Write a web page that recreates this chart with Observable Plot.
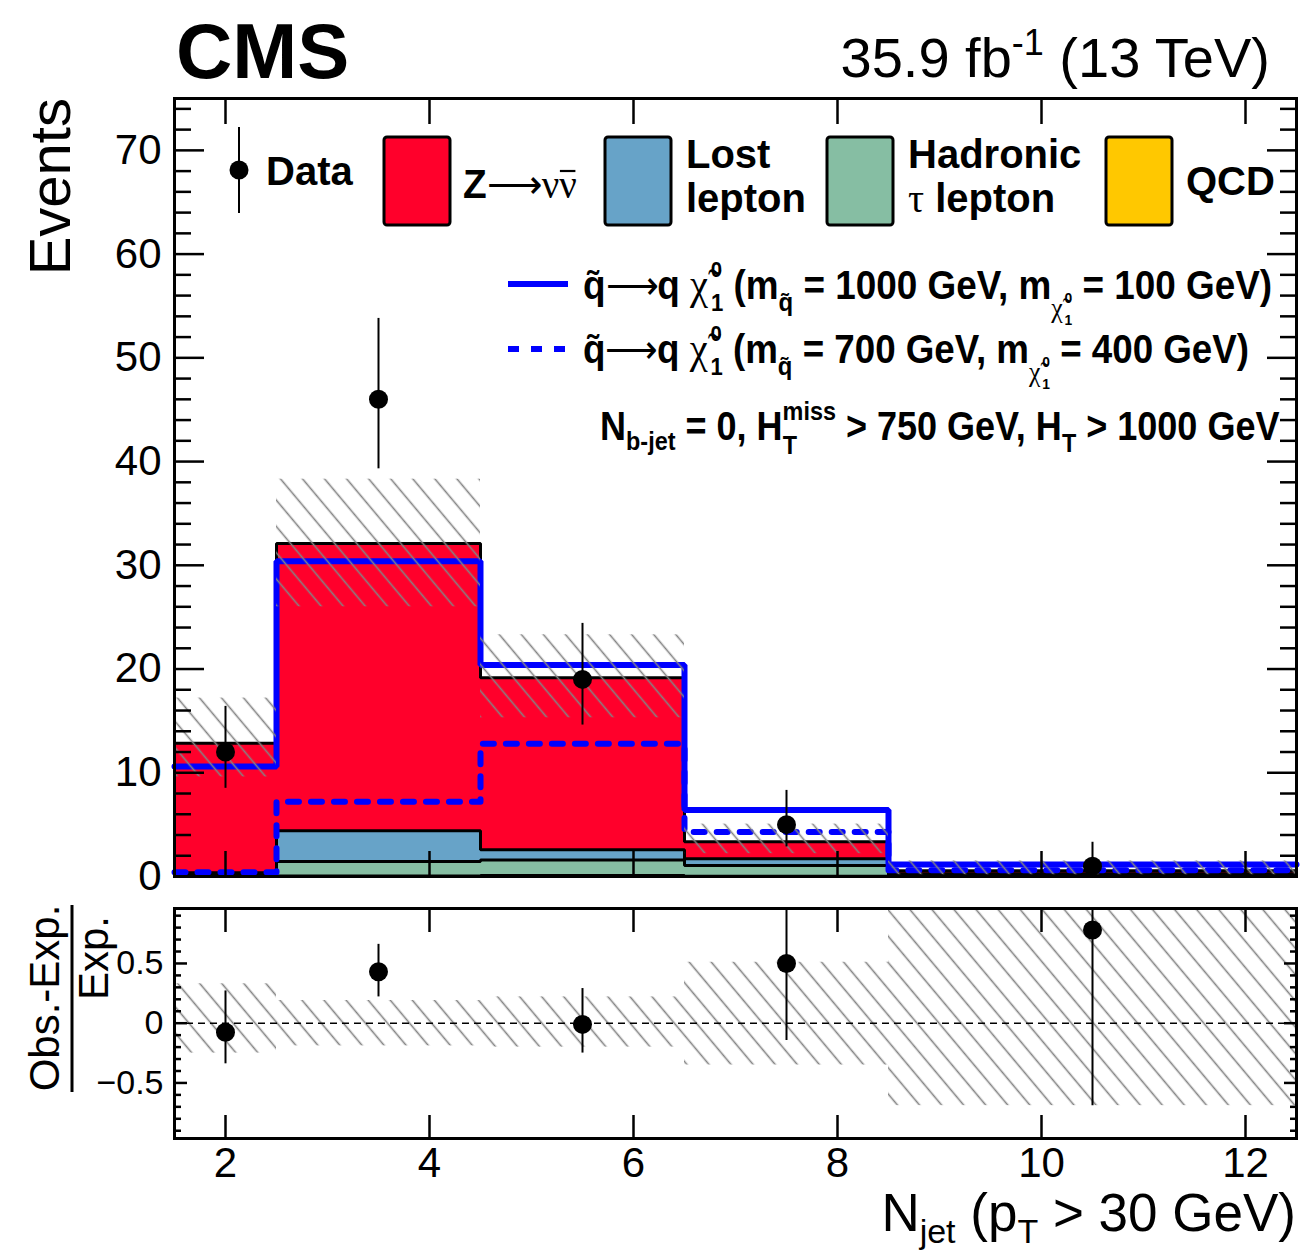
<!DOCTYPE html>
<html>
<head>
<meta charset="utf-8">
<script src="https://cdn.jsdelivr.net/npm/d3@7"></script>
<script src="https://cdn.jsdelivr.net/npm/@observablehq/plot@0.6"></script>
<style>
  body { margin: 0; background: #fff; }
  #wrap { position: relative; width: 1301px; height: 1257px; overflow: hidden; background: #fff; font-family: "Liberation Sans", Arial, sans-serif; }
  #main { position: absolute; left: 0; top: 0; }
  #ratio { position: absolute; left: 0; top: 890px; }
  #overlay { position: absolute; left: 0; top: 0; pointer-events: none; }
</style>
</head>
<body>
<div id="wrap">
  <svg width="0" height="0" style="position:absolute">
    <defs>
      <pattern id="hatch" patternUnits="userSpaceOnUse" width="16.9" height="16.9" patternTransform="rotate(-40)">
        <line x1="8.45" y1="-1" x2="8.45" y2="18" stroke="#838383" stroke-width="1.6"/>
      </pattern>
    </defs>
  </svg>
  <div id="main"></div>
  <div id="ratio"></div>
  <svg id="overlay" width="1301" height="1257"></svg>
</div>
<script>
// ---------------- data ----------------
const binLo = [1.5, 2.5, 4.5, 6.5, 8.5];
const binHi = [2.5, 4.5, 6.5, 8.5, 12.5];
const binCenter = [2, 3.5, 5.5, 7.5, 10.5];

const seriesNames = ["QCD", "Hadronic τ lepton", "Lost lepton", "Z→νν̄"];
const seriesColors = ["#ffc800", "#86bea3", "#67a3c8", "#ff002b"];
const qcd        = [0.05, 0.05, 0.10, 0.02, 0.03];
const hadTau     = [0.10, 1.40, 1.50, 1.05, 0.10];
const lostLepton = [0.20, 2.95, 0.97, 0.65, 0.13];
const zInv       = [12.5, 27.7, 16.6, 1.63, 0.30];

const bkgUncLo = [9.6, 26.0, 15.3, 2.2, 0.17];
const bkgUncHi = [17.2, 38.3, 23.3, 5.05, 1.5];

const sigSolid  = [10.6, 30.4, 20.4, 6.4, 1.15]; // m_sq=1000, m_chi=100
const sigDashed = [0.4, 7.2, 12.8, 4.3, 0.6];    // m_sq=700, m_chi=400

const dataObs   = [12, 46, 19, 5, 1];
const dataErrLo = [8.5, 39.3, 14.6, 2.85, 0.17];
const dataErrHi = [16.4, 53.8, 24.4, 8.3, 3.3];

const ratioObs   = [-0.075, 0.43, -0.01, 0.50, 0.78];
const ratioErrLo = [-0.34, 0.22, -0.25, -0.145, -0.69];
const ratioErrHi = [0.27, 0.66, 0.29, 1.48, 4.9];
const ratioUncLo = [-0.25, -0.19, -0.20, -0.35, -0.69];
const ratioUncHi = [0.33, 0.19, 0.22, 0.51, 1.68];

const xTicks = [2, 4, 6, 8, 10, 12];
const yTicks = [0, 10, 20, 30, 40, 50, 60, 70];
const ratioTicks = [-0.5, 0, 0.5];

// ---------------- derived ----------------
const yMinor = d3.range(0, 75, 2).filter(v => v % 10 !== 0);
const rMinor = d3.range(-9, 10).map(v => v / 10).filter(v => Math.abs(v * 10) % 5 !== 0);

const comps = [qcd, hadTau, lostLepton, zInv];
const stackRects = [];
binLo.forEach((lo, i) => {
  let base = 0;
  comps.forEach((c, k) => {
    stackRects.push({lo, hi: binHi[i], y1: base, y2: base + c[i], fill: seriesColors[k]});
    base += c[i];
  });
});
function stepPoints(values, key) {
  const pts = values.map((v, i) => ({x: binLo[i], y: v, key}));
  pts.push({x: binHi[binHi.length - 1], y: values[values.length - 1], key});
  return pts;
}
const stackLines = comps.flatMap((c, k) => {
  const tops = binLo.map((_, i) => comps.slice(0, k + 1).reduce((s, a) => s + a[i], 0));
  return stepPoints(tops, k);
});
const bins = binLo.map((lo, i) => ({
  lo, hi: binHi[i], x: binCenter[i],
  uLo: bkgUncLo[i], uHi: bkgUncHi[i],
  obs: dataObs[i], eLo: dataErrLo[i], eHi: dataErrHi[i],
  r: ratioObs[i], rLo: ratioErrLo[i], rHi: ratioErrHi[i],
  ruLo: ratioUncLo[i], ruHi: ratioUncHi[i]
}));

const font = "Liberation Sans, Arial, Helvetica, sans-serif";
const empty = () => "";

// ---------------- main panel ----------------
const main = Plot.plot({
  width: 1301, height: 890,
  marginLeft: 174, marginRight: 5, marginTop: 98, marginBottom: 14,
  x: {domain: [1.5, 12.5]},
  y: {domain: [0, 75]},
  color: {type: "identity"},
  style: {fontFamily: font, fontSize: "42px", color: "black", background: "transparent", overflow: "visible"},
  marks: [
    Plot.rect(stackRects, {x1: "lo", x2: "hi", y1: "y1", y2: "y2", fill: "fill"}),
    Plot.line(stackLines, {x: "x", y: "y", z: "key", curve: "step-after", stroke: "black", strokeWidth: 3, strokeLinejoin: "miter"}),
    Plot.line(stepPoints(sigSolid, 0), {x: "x", y: "y", curve: "step-after", stroke: "#0000ff", strokeWidth: 6, strokeLinejoin: "miter"}),
    Plot.line(stepPoints(sigDashed, 0), {x: "x", y: "y", curve: "step-after", stroke: "#0000ff", strokeWidth: 6, strokeDasharray: "11,12"}),
    Plot.rect(bins, {x1: "lo", x2: "hi", y1: "uLo", y2: "uHi", fill: "url(#hatch)"}),
    Plot.ruleX(bins, {x: "x", y1: "eLo", y2: "eHi", stroke: "black", strokeWidth: 2}),
    Plot.dot(bins, {x: "x", y: "obs", r: 9.5, fill: "black"}),
    Plot.axisY(yTicks, {anchor: "left", tickSize: -30, tickPadding: 43, strokeWidth: 2.5, label: null, fontSize: 42}),
    Plot.axisY(yMinor, {anchor: "left", tickSize: -17, tickFormat: empty, strokeWidth: 2.5, label: null}),
    Plot.axisY(yTicks, {anchor: "right", tickSize: -30, tickFormat: empty, strokeWidth: 2.5, label: null}),
    Plot.axisY(yMinor, {anchor: "right", tickSize: -17, tickFormat: empty, strokeWidth: 2.5, label: null}),
    Plot.axisX(xTicks, {anchor: "bottom", tickSize: -25, tickFormat: empty, strokeWidth: 2.5, label: null}),
    Plot.axisX(xTicks, {anchor: "top", tickSize: -25, tickFormat: empty, strokeWidth: 2.5, label: null}),
    Plot.frame({stroke: "black", strokeWidth: 3})
  ]
});
document.getElementById("main").append(main);

// ---------------- ratio panel ----------------
const fmtR = d => d < 0 ? "\u2212" + Math.abs(d) : String(d);
const ratio = Plot.plot({
  width: 1301, height: 367,
  marginLeft: 174, marginRight: 5, marginTop: 18, marginBottom: 119,
  x: {domain: [1.5, 12.5]},
  y: {domain: [-0.965, 0.96]},
  style: {fontFamily: font, fontSize: "42px", color: "black", background: "transparent", overflow: "visible"},
  marks: [
    Plot.rect(bins, {x1: "lo", x2: "hi", y1: "ruLo", y2: "ruHi", fill: "url(#hatch)", clip: true}),
    Plot.ruleY([0], {stroke: "black", strokeWidth: 1.6, strokeDasharray: "7,5"}),
    Plot.ruleX(bins, {x: "x", y1: "rLo", y2: "rHi", stroke: "black", strokeWidth: 2, clip: true}),
    Plot.dot(bins, {x: "x", y: "r", r: 9.5, fill: "black", clip: true}),
    Plot.axisY(ratioTicks, {anchor: "left", tickSize: -13, tickPadding: 24, tickFormat: fmtR, strokeWidth: 2.5, label: null, fontSize: 34}),
    Plot.axisY(rMinor, {anchor: "left", tickSize: -7, tickFormat: empty, strokeWidth: 2.5, label: null}),
    Plot.axisY(ratioTicks, {anchor: "right", tickSize: -13, tickFormat: empty, strokeWidth: 2.5, label: null}),
    Plot.axisY(rMinor, {anchor: "right", tickSize: -7, tickFormat: empty, strokeWidth: 2.5, label: null}),
    Plot.axisX(xTicks, {anchor: "bottom", tickSize: -23, tickPadding: 32, strokeWidth: 2.5, label: null, fontSize: 42}),
    Plot.axisX(xTicks, {anchor: "top", tickSize: -23, tickFormat: empty, strokeWidth: 2.5, label: null}),
    Plot.frame({stroke: "black", strokeWidth: 3})
  ]
});
document.getElementById("ratio").append(ratio);

// ---------------- annotations & legend ----------------
const sw = (x, k) => `<rect x="${x}" y="137" width="66" height="88" rx="3" fill="${seriesColors[k]}" stroke="black" stroke-width="3"/>`;
const serif = `font-family="Liberation Serif, serif" font-weight="normal"`;
function sigLabel(mq, mchi) {
  return `<text font-size="40" font-weight="bold">q̃<tspan ${serif}>⟶</tspan>q <tspan ${serif} font-size="44">χ̃</tspan>` +
    `<tspan font-size="22" dx="3" dy="-22">0</tspan><tspan font-size="24" dx="-12.2" dy="34">1</tspan>` +
    `<tspan dy="-12"> (m</tspan><tspan font-size="26" dy="12">q̃</tspan><tspan dy="-12"> = ${mq} GeV, m</tspan>` +
    `<tspan font-size="28" dy="18" ${serif}>χ̃</tspan><tspan font-size="15" dx="2" dy="-14">0</tspan><tspan font-size="15" dx="-8.3" dy="22">1</tspan>` +
    `<tspan dy="-26"> = ${mchi} GeV)</tspan></text>`;
}
const overlay = document.getElementById("overlay");
overlay.innerHTML = `
<g font-family="${font}" fill="black">
  <text x="176" y="78" font-size="78" font-weight="bold">CMS</text>
  <text x="1270" y="77" font-size="56" text-anchor="end">35.9 fb<tspan font-size="36" dy="-22">-1</tspan><tspan dy="22"> (13 TeV)</tspan></text>
  <text transform="translate(70,98) rotate(-90)" font-size="58" text-anchor="end">Events</text>
  <text transform="translate(59,998) rotate(-90)" font-size="42" text-anchor="middle">Obs.-Exp.</text>
  <line x1="72" y1="905" x2="72" y2="1092" stroke="black" stroke-width="3"/>
  <text transform="translate(108,958) rotate(-90)" font-size="42" text-anchor="middle">Exp.</text>
  <text x="1296" y="1231" font-size="53" text-anchor="end">N<tspan font-size="34" dy="12">jet</tspan><tspan dy="-12"> (p</tspan><tspan font-size="34" dy="12">T</tspan><tspan dy="-12"> &gt; 30 GeV)</tspan></text>

  <line x1="239" y1="127" x2="239" y2="213" stroke="black" stroke-width="2"/>
  <circle cx="239" cy="170" r="9.5"/>
  <text x="266" y="185" font-size="40" font-weight="bold">Data</text>
  ${sw(384, 3)}
  <g class="fit" id="znn" data-x="463" data-y="198" data-w="114"><text font-size="40" font-weight="bold">Z<tspan ${serif}>⟶νν</tspan></text></g>
  ${sw(605, 2)}
  <text x="686" y="168" font-size="40" font-weight="bold">Lost</text>
  <text x="686" y="212" font-size="40" font-weight="bold">lepton</text>
  ${sw(827, 1)}
  <text x="908" y="168" font-size="40" font-weight="bold">Hadronic</text>
  <text x="908" y="212" font-size="40" font-weight="bold"><tspan ${serif}>τ</tspan> lepton</text>
  ${sw(1106, 0)}
  <text x="1186" y="195" font-size="40" font-weight="bold">QCD</text>

  <line x1="508" y1="284" x2="568" y2="284" stroke="#0000ff" stroke-width="6"/>
  <g class="fit" data-x="583" data-y="299" data-w="690">${sigLabel(1000, 100)}</g>
  <line x1="508" y1="349" x2="568" y2="349" stroke="#0000ff" stroke-width="6" stroke-dasharray="11,12"/>
  <g class="fit" data-x="583" data-y="363" data-w="667">${sigLabel(700, 400)}</g>
  <g class="fit" data-x="600" data-y="440" data-w="680"><text font-size="40" font-weight="bold">N<tspan font-size="26" dy="10">b-jet</tspan><tspan dy="-10"> = 0, H</tspan><tspan font-size="26" dy="-20">miss</tspan><tspan font-size="26" dx="-59" dy="34">T</tspan><tspan dx="43" dy="-14"> &gt; 750 GeV, H</tspan><tspan font-size="26" dy="12">T</tspan><tspan dy="-12"> &gt; 1000 GeV</tspan></text></g>
</g>`;
overlay.querySelectorAll("g.fit").forEach(g => {
  const t = g.querySelector("text");
  const b = t.getBBox();
  const s = (+g.dataset.w) / b.width;
  g.setAttribute("transform", `translate(${g.dataset.x},${g.dataset.y}) scale(${s},1)`);
});
// bar over the anti-neutrino in the Z legend entry
{
  const g = document.getElementById("znn");
  const b = g.querySelector("text").getBBox();
  const x2 = b.x + b.width - 1.5;
  const bar = document.createElementNS("http://www.w3.org/2000/svg", "line");
  bar.setAttribute("x1", x2 - 16); bar.setAttribute("x2", x2);
  bar.setAttribute("y1", -27); bar.setAttribute("y2", -27);
  bar.setAttribute("stroke", "black"); bar.setAttribute("stroke-width", 2.2);
  g.append(bar);
}
</script>
</body>
</html>
